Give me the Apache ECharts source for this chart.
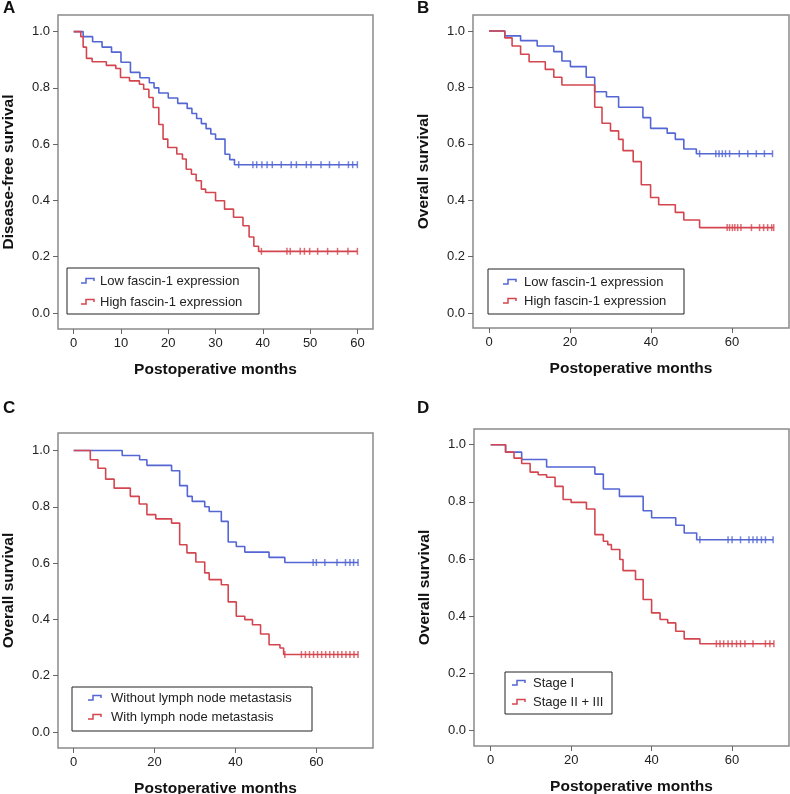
<!DOCTYPE html>
<html>
<head>
<meta charset="utf-8">
<script src="https://cdn.jsdelivr.net/npm/echarts@6/dist/echarts.min.js"></script>
<style>
html,body{margin:0;padding:0;background:#fff;}
#chart{width:790px;height:794px;}
</style>
</head>
<body>
<div id="chart"></div>
<script>
// ---------- Panel A : Disease-free survival ----------
const aLowTime  = [0,2,4,6,8,10,12,14,16,17,18,20,22,24,25,26,27,28,29,30,32,33,34];
const aLowSurv  = [1,0.982,0.964,0.945,0.927,0.891,0.855,0.836,0.818,0.800,0.782,0.764,0.745,0.727,0.709,0.691,0.673,0.655,0.636,0.618,0.564,0.545,0.527];
const aLowCens  = [34.9,37.9,38.7,39.8,40.9,42.0,43.9,46.0,47.1,49.2,50.2,52.3,54.1,56.1,58.1,59.0,60.0];
const aHighTime = [0,1.5,2.0,2.7,3.9,6.9,8.9,9.9,11.8,13.9,14.8,15.9,16.8,18.0,18.9,19.9,21.8,23.0,23.8,24.9,25.9,27.0,27.9,30.0,31.9,33.8,35.8,37.1,38.1,39.1];
const aHighSurv = [1,0.982,0.945,0.905,0.893,0.88,0.869,0.837,0.825,0.813,0.795,0.766,0.73,0.67,0.618,0.588,0.565,0.547,0.511,0.493,0.47,0.44,0.428,0.399,0.369,0.34,0.31,0.27,0.237,0.219];
const aHighCens = [39.7,45.1,45.8,47.9,48.8,49.9,51.6,53.7,55.8,58.0,60.0];

// ---------- Panel B : Overall survival by fascin-1 ----------
const bLowTime  = [0,3.9,7.8,11.9,16,18,20.1,24,26.1,29,32,38,39.9,44,46,48.1,51.2];
const bLowSurv  = [1,0.983,0.966,0.947,0.927,0.894,0.874,0.836,0.785,0.767,0.73,0.693,0.655,0.638,0.616,0.582,0.565];
const bLowCens  = [52.0,56.0,56.8,57.6,58.4,59.4,61.8,63.9,66.0,68.0,70.0];
const bHighTime = [0,3.9,5.7,7.8,9.9,13.9,16,18,26.1,27.9,30,32,33.1,35.6,37.6,39.9,41.9,46,48.1,52];
const bHighSurv = [1,0.976,0.947,0.918,0.891,0.864,0.836,0.809,0.73,0.673,0.646,0.616,0.576,0.537,0.455,0.41,0.384,0.357,0.33,0.303];
const bHighCens = [58.8,59.4,60.1,60.7,61.4,62.2,64.8,66.8,67.8,68.8,69.8,70.3];

// ---------- Panel C : Overall survival by lymph node metastasis ----------
const cLowTime  = [0,12,16.3,18.1,24.2,26.2,28.1,29.3,32.4,33.5,36.5,38.2,40.2,42.3,48.3,52.2];
const cLowSurv  = [1,0.982,0.967,0.947,0.928,0.875,0.837,0.819,0.80,0.783,0.748,0.675,0.659,0.639,0.62,0.602];
const cLowCens  = [59.2,60.0,62.1,65.1,67.2,68.3,69.2,70.3];
const cHighTime = [0,4.1,6,7.9,10,14,16.2,18.1,20.3,24.2,26.2,28,30.2,32.4,33.5,36.5,38.2,40.2,42.3,44.2,46.2,48.3,51,51.9];
const cHighSurv = [1,0.967,0.937,0.898,0.866,0.837,0.81,0.772,0.757,0.742,0.665,0.636,0.604,0.565,0.541,0.523,0.462,0.411,0.399,0.381,0.348,0.31,0.298,0.275];
const cHighCens = [52.2,56.3,57.3,58.3,59.3,60.3,61.3,62.3,63.3,64.3,65.3,66.3,67.3,68.3,69.3,70.3];

// ---------- Panel D : Overall survival by stage ----------
const dLowTime  = [0,3.7,7.7,13.9,25.9,28,32,37.9,40,46,48.1,51.2];
const dLowSurv  = [1,0.974,0.948,0.922,0.897,0.845,0.819,0.769,0.744,0.718,0.691,0.667];
const dLowCens  = [52,59,60,62.1,64.2,65.2,66.2,67.3,68.3,70.2];
const dHighTime = [0,3.7,5.8,7.7,9.8,11.8,13.9,16,18,20,23.8,25.9,28,29.1,30,32.1,32.9,36,37.9,40,42.1,44,46,48.1,52];
const dHighSurv = [1,0.974,0.953,0.934,0.904,0.895,0.886,0.854,0.808,0.798,0.775,0.685,0.662,0.65,0.633,0.598,0.559,0.528,0.458,0.411,0.388,0.376,0.347,0.32,0.303];
const dHighCens = [56.1,57,57.9,59,60,61.1,62.1,63.2,65.2,68.3,69.4,70.4];

// ---------- Text ----------
const panelLetters = ['A','B','C','D'];
const yTitles = ['Disease-free survival','Overall survival','Overall survival','Overall survival'];
const xTitle = 'Postoperative months';
const legendNames = [
  ['Low fascin-1 expression','High fascin-1 expression'],
  ['Low fascin-1 expression','High fascin-1 expression'],
  ['Without lymph node metastasis','With lymph node metastasis'],
  ['Stage I','Stage II + III']
];
const yTicks = [0,0.2,0.4,0.6,0.8,1.0];
const xTicksA = [0,10,20,30,40,50,60];
const xTicksBCD = [0,20,40,60];

// ---------- Layout / style ----------
const BLUE = '#5366d3', RED = '#d4464f';
const FONT = 'Liberation Sans, Arial, sans-serif';
const panels = [
  {grid:{left:58, top:15, width:315, height:314}, x:[-3.32,63.3], y:[-0.057,1.059], xt:xTicksA,
   low:[aLowTime,aLowSurv,aLowCens], high:[aHighTime,aHighSurv,aHighCens],
   letter:[3,0], leg:{x:67,y:268,w:192,h:46,ix:81,tx:100,r1:281,r2:302}},
  {grid:{left:473, top:15, width:316, height:313}, x:[-3.95,74.07], y:[-0.053,1.057], xt:xTicksBCD,
   low:[bLowTime,bLowSurv,bLowCens], high:[bHighTime,bHighSurv,bHighCens],
   letter:[417,0], leg:{x:488,y:269,w:196,h:45,ix:503,tx:524,r1:282,r2:301}},
  {grid:{left:58, top:433, width:315, height:315}, x:[-3.88,74.0], y:[-0.057,1.062], xt:xTicksBCD,
   low:[cLowTime,cLowSurv,cLowCens], high:[cHighTime,cHighSurv,cHighCens],
   letter:[3,400], leg:{x:72,y:687,w:240,h:44,ix:88,tx:111,r1:698,r2:717}},
  {grid:{left:474, top:429, width:315, height:317}, x:[-4.15,74.15], y:[-0.055,1.055], xt:xTicksBCD,
   low:[dLowTime,dLowSurv,dLowCens], high:[dHighTime,dHighSurv,dHighCens],
   letter:[417,400], leg:{x:505,y:672,w:107,h:42,ix:512,tx:533,r1:683,r2:702}}
];

function stepValue(times, surv, t){
  let v = surv[0];
  for (let i=0;i<times.length;i++){ if (times[i] <= t) v = surv[i]; }
  return v;
}
function curveData(group){
  const [times, surv, cens] = group;
  const d = times.map((t,i)=>[t, surv[i]]);
  const lastT = Math.max(...cens);
  d.push([lastT, surv[surv.length-1]]);
  return d;
}
function censData(group){
  const [times, surv, cens] = group;
  return cens.map(t=>[t, stepValue(times, surv, t)]);
}

const grids=[], xAxes=[], yAxes=[], series=[], graphics=[];
panels.forEach((p,i)=>{
  grids.push(Object.assign({show:true, borderColor:'#8a8a8a', borderWidth:1.5, backgroundColor:'#fff', outerBoundsMode:'none', containLabel:false}, p.grid));
  xAxes.push({gridIndex:i, type:'value', min:p.x[0], max:p.x[1], position:'bottom',
    axisLine:{show:false, onZero:false}, splitLine:{show:false},
    axisTick:{show:true, length:5, customValues:p.xt, lineStyle:{color:'#666', width:1}},
    axisLabel:{customValues:p.xt, fontSize:13, color:'#222', margin:8, fontFamily:FONT, formatter:v=>String(Math.round(v))},
    name:xTitle, nameLocation:'middle', nameGap:33, nameMoveOverlap:false,
    nameTextStyle:{fontSize:15.5, fontWeight:'bold', color:'#111', fontFamily:FONT}
  });
  yAxes.push({gridIndex:i, type:'value', min:p.y[0], max:p.y[1], position:'left',
    axisLine:{show:false, onZero:false}, splitLine:{show:false},
    axisTick:{show:true, length:5, customValues:yTicks, lineStyle:{color:'#666', width:1}},
    axisLabel:{customValues:yTicks, fontSize:13, color:'#222', margin:8, fontFamily:FONT, formatter:v=>v.toFixed(1)},
    name:yTitles[i], nameLocation:'middle', nameGap:41, nameMoveOverlap:false,
    nameTextStyle:{fontSize:15.5, fontWeight:'bold', color:'#111', fontFamily:FONT}
  });
  [['low',BLUE,legendNames[i][0]],['high',RED,legendNames[i][1]]].forEach(([k,col,nm])=>{
    series.push({type:'line', name:nm, xAxisIndex:i, yAxisIndex:i, step:'end', symbol:'none',
      data:curveData(p[k]), lineStyle:{color:col, width:1.6}, itemStyle:{color:col}, animation:false, z:3});
    series.push({type:'scatter', xAxisIndex:i, yAxisIndex:i, symbol:'rect', symbolSize:[1.5,7],
      data:censData(p[k]), itemStyle:{color:col}, animation:false, z:4});
  });
  graphics.push({type:'text', left:p.letter[0], top:p.letter[1], style:{text:panelLetters[i], font:'bold 17px '+FONT, fill:'#111'}});
  const L=p.leg;
  graphics.push({type:'rect', shape:{x:L.x, y:L.y, width:L.w, height:L.h}, style:{fill:'#fff', stroke:'#222', lineWidth:1}, z:10});
  [[L.r1,BLUE,legendNames[i][0]],[L.r2,RED,legendNames[i][1]]].forEach(([ry,col,nm])=>{
    graphics.push({type:'polyline', shape:{points:[[L.ix,ry+2],[L.ix+5,ry+2],[L.ix+5,ry-2.5],[L.ix+13,ry-2.5],[L.ix+13,ry]]},
      style:{stroke:col, lineWidth:1.5, fill:null}, z:11});
    graphics.push({type:'text', x:L.tx, y:ry, style:{text:nm, font:'13px '+FONT, fill:'#222', verticalAlign:'middle', align:'left'}, z:11});
  });
});

const chart = echarts.init(document.getElementById('chart'), null, {renderer:'canvas'});
chart.setOption({
  animation:false,
  backgroundColor:'#fff',
  grid:grids, xAxis:xAxes, yAxis:yAxes, series:series, graphic:graphics
});
</script>
</body>
</html>
